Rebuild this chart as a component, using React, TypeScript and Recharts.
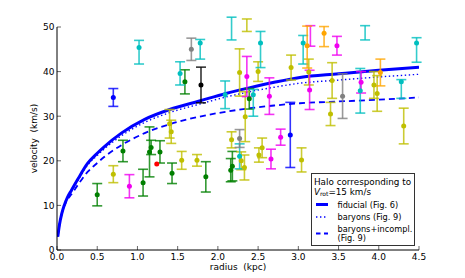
import React from "react";
import { ComposedChart, Line, Scatter, ErrorBar, XAxis, YAxis, Legend, Label } from "recharts";

const xTicks = [0, 0.5, 1, 1.5, 2, 2.5, 3, 3.5, 4, 4.5];
const yTicks = [0, 10, 20, 30, 40, 50];

// model rotation curves (radius in kpc, velocity in km/s)
const curveR = [0.01, 0.03, 0.06, 0.09, 0.13, 0.18, 0.26, 0.38, 0.5, 0.59, 0.8, 1.09, 1.4, 1.77, 2.1, 2.4, 2.7, 3.02, 3.5, 4.0, 4.5];
const fiducialV = [3.0, 5.6, 8.2, 10.0, 11.8, 13.4, 15.9, 19.4, 21.7, 23.2, 26.2, 29.3, 31.5, 33.4, 35.1, 36.4, 37.6, 38.7, 39.5, 40.3, 41.0];
const baryonsV = [3.0, 5.6, 8.2, 10.0, 11.7, 13.2, 15.6, 19.0, 21.2, 22.7, 25.6, 28.6, 30.8, 32.7, 34.3, 35.5, 36.5, 37.4, 38.1, 38.8, 39.4];
const incomplV = [3.0, 5.6, 8.2, 9.9, 11.3, 12.5, 14.6, 17.5, 19.5, 20.9, 23.5, 26.2, 28.2, 29.9, 31.0, 31.8, 32.4, 32.9, 33.3, 33.7, 34.2];

// measured points, grouped by colour: radius, velocity, error (symmetric or [low, high])
// points above 50 km/s sit outside the frame; only their error bars show
const blueR = [0.7, 2.9];
const blueV = [34.2, 25.8];
const blueE = [2.0, 7.3];

const cyanR = [1.02, 1.53, 1.78, 2.09, 2.17, 2.27, 2.44, 2.53, 3.06, 3.77, 3.83, 4.28, 4.47];
const cyanV = [45.4, 39.6, 46.4, 34.8, 50.2, 21.0, 34.8, 46.4, 46.4, 35.7, 50.3, 37.7, 46.4];
const cyanE = [[3.7, 1.6], 2.6, [3.6, 0.8], 3.1, [3.1, 2.0], 2.8, [4.8, 1.2], [5.5, 2.6], [4.7, 1.7], 5.0, [3.2, 0], [3.7, 0.5], [4.3, 1.2]];

const greenR = [0.5, 0.82, 1.07, 1.15, 1.17, 1.28, 1.43, 1.59, 1.85, 2.16, 2.18, 2.39];
const greenV = [12.4, 22.2, 15.1, 22.0, 23.0, 22.0, 17.2, 37.7, 16.4, 17.9, 18.8, 33.9];
const greenE = [2.5, 2.4, 3.0, 5.6, 1.6, 2.5, 2.3, 2.7, 3.4, 2.6, 3.3, 2.3];

const redR = [1.24];
const redV = [19.3];

const yellowR = [0.7, 1.4, 1.42, 1.55, 1.74, 2.17, 2.27, 2.29, 2.33, 2.34, 2.36, 2.5, 2.51, 2.55, 2.91, 3.04, 3.13, 3.4, 3.42, 3.94, 3.98, 4.31];
const yellowV = [17.0, 28.3, 26.5, 20.1, 20.1, 24.7, 39.8, 20.0, 18.5, 29.9, 50.6, 40.0, 21.3, 22.9, 40.9, 20.2, 39.9, 30.5, 38.0, 37.0, 35.1, 27.8];
const yellowE = [1.9, 3.2, 2.6, 2.0, 1.3, 1.8, 5.3, 2.0, 2.8, 5.6, [1.6, 1.2], 2.2, 1.6, 2.2, 2.8, 2.7, 2.9, 2.6, 4.0, 3.0, 4.0, 4.0];

const magentaR = [0.9, 2.36, 2.64, 2.66, 2.78, 3.14, 3.15, 3.48, 3.78];
const magentaV = [14.3, 38.9, 34.5, 20.4, 25.3, 35.9, 50.3, 45.8, 37.6];
const magentaE = [2.6, 4.5, 4.1, 2.2, 1.8, 4.4, [4.6, 0], 2.1, 2.4];

const grayR = [1.67, 2.27, 3.55];
const grayV = [45.0, 25.0, 34.5];
const grayE = [2.5, 2.0, 5.0];

const blackR = [1.79];
const blackV = [37.0];
const blackE = [4.0];

const orangeR = [3.11, 3.32, 4.02];
const orangeV = [45.8, 48.6, 39.8];
const orangeE = [[5.0, 4.4], [3.0, 1.5], 3.0];

const FONT = "DejaVu Sans";
const BLUE = "#0000ff";
const Y_MAX = 50;

const toPoints = (r: number[], v: number[], e?: any[]) =>
  r.map((x, i) => ({ r: x, v: v[i], e: e ? e[i] : 0 }));
const toCurve = (v: number[]) => curveR.map((x, i) => ({ r: x, v: v[i] }));

const groups = [
  { name: "green", color: "#007f00", data: toPoints(greenR, greenV, greenE), err: true },
  { name: "yellow", color: "#bfbf00", data: toPoints(yellowR, yellowV, yellowE), err: true },
  { name: "cyan", color: "#00bfbf", data: toPoints(cyanR, cyanV, cyanE), err: true },
  { name: "magenta", color: "#f000f0", data: toPoints(magentaR, magentaV, magentaE), err: true },
  { name: "gray", color: "#808080", data: toPoints(grayR, grayV, grayE), err: true },
  { name: "black", color: "#000000", data: toPoints(blackR, blackV, blackE), err: true },
  { name: "orange", color: "#ffa500", data: toPoints(orangeR, orangeV, orangeE), err: true },
  { name: "blue", color: BLUE, data: toPoints(blueR, blueV, blueE), err: true },
  { name: "red", color: "#ff0000", data: toPoints(redR, redV), err: false },
];

const BottomTick = ({ x, y, payload }: any) => (
  <g>
    <line x1={x} y1={y} x2={x} y2={y - 4} stroke="#000" strokeWidth={0.6} />
    <text x={x} y={y + 9.5} textAnchor="middle" fontSize={9} fontFamily={FONT} fill="#000">
      {Number(payload.value).toFixed(1)}
    </text>
  </g>
);

const TopTick = ({ x, y }: any) => <line x1={x} y1={y} x2={x} y2={y + 4} stroke="#000" strokeWidth={0.6} />;

const LeftTick = ({ x, y, payload }: any) => (
  <g>
    <line x1={x} y1={y} x2={x + 4} y2={y} stroke="#000" strokeWidth={0.6} />
    <text x={x - 2.5} y={y + 3.3} textAnchor="end" fontSize={9} fontFamily={FONT} fill="#000">
      {payload.value}
    </text>
  </g>
);

const RightTick = ({ x, y }: any) => <line x1={x} y1={y} x2={x - 4} y2={y} stroke="#000" strokeWidth={0.6} />;

const LegendBox = () => (
  <svg width={104} height={73} style={{ display: "block" }} fontFamily={FONT} fontSize={8.2}>
    <rect x={0.5} y={0.5} width={103} height={72} fill="#fff" stroke="#333" />
    <text x={3} y={11.5} fontSize={8.8}>Halo corresponding to</text>
    <text x={3} y={21.5} fontSize={8.8}>
      <tspan fontStyle="italic">V</tspan>
      <tspan fontSize={6} dy={1.8}>rot</tspan>
      <tspan dy={-1.8}>=15 km/s</tspan>
    </text>
    <line x1={5} x2={17} y1={31.5} y2={31.5} stroke={BLUE} strokeWidth={3} />
    <text x={26.5} y={35}>fiducial (Fig. 6)</text>
    <line x1={5} x2={17} y1={44} y2={44} stroke={BLUE} strokeWidth={1.4} strokeDasharray="1.4 2.6" />
    <text x={26.5} y={47.3}>baryons (Fig. 9)</text>
    <line x1={5} x2={17} y1={60.5} y2={60.5} stroke={BLUE} strokeWidth={1.8} strokeDasharray="4.5 3.5" />
    <text x={26.5} y={59.3}>baryons+incompl.</text>
    <text x={26.5} y={68.3}>(Fig. 9)</text>
  </svg>
);

export default function App() {
  return (
    <div style={{ position: "absolute", left: 0, top: 0 }}>
      <ComposedChart width={465} height={278} margin={{ top: 27, right: 46, bottom: 0, left: 0 }}>
        <XAxis
          dataKey="r"
          type="number"
          domain={[0, 4.5]}
          ticks={xTicks}
          allowDataOverflow
          height={28}
          tickSize={0}
          tickMargin={0}
          tickLine={false}
          tick={BottomTick}
          axisLine={{ stroke: "#000" }}
        >
          <Label value={"radius\u00a0\u00a0(kpc)"} position="insideBottom" offset={8} fontSize={9} fontFamily={FONT} fill="#000" />
        </XAxis>
        <XAxis
          xAxisId="top"
          orientation="top"
          dataKey="r"
          type="number"
          domain={[0, 4.5]}
          ticks={xTicks}
          allowDataOverflow
          height={0}
          tickSize={0}
          tickMargin={0}
          tickLine={false}
          tick={TopTick}
          axisLine={{ stroke: "#000" }}
        />
        <YAxis
          type="number"
          domain={[0, Y_MAX]}
          ticks={yTicks}
          allowDataOverflow
          width={57}
          tickSize={0}
          tickMargin={0}
          tickLine={false}
          tick={LeftTick}
          axisLine={{ stroke: "#000" }}
        >
          <Label
            value={"velocity\u00a0\u00a0(km/s)"}
            angle={-90}
            position="insideLeft"
            offset={34}
            fontSize={9}
            fontFamily={FONT}
            fill="#000"
            style={{ textAnchor: "middle" }}
          />
        </YAxis>
        <YAxis
          yAxisId="right"
          orientation="right"
          type="number"
          domain={[0, Y_MAX]}
          ticks={yTicks}
          allowDataOverflow
          width={0}
          tickSize={0}
          tickMargin={0}
          tickLine={false}
          tick={RightTick}
          axisLine={{ stroke: "#000" }}
        />
        <Line data={toCurve(fiducialV)} dataKey="v" type="monotone" stroke={BLUE} strokeWidth={3} dot={false} isAnimationActive={false} />
        <Line data={toCurve(baryonsV)} dataKey="v" type="monotone" stroke={BLUE} strokeWidth={1.4} strokeDasharray="1.4 2.6" dot={false} isAnimationActive={false} />
        <Line data={toCurve(incomplV)} dataKey="v" type="monotone" stroke={BLUE} strokeWidth={1.8} strokeDasharray="6 4" dot={false} isAnimationActive={false} />
        {groups.map((g) => (
          <Scatter
            key={g.name}
            name={g.name}
            data={g.data}
            dataKey="v"
            fill={g.color}
            isAnimationActive={false}
            shape={(p: any) =>
              p.payload && p.payload.v > Y_MAX ? <g /> : <circle cx={p.cx} cy={p.cy} r={2.5} fill={g.color} />
            }
          >
            {g.err && <ErrorBar dataKey="e" direction="y" width={5} stroke={g.color} strokeWidth={1.6} strokeOpacity={0.8} />}
          </Scatter>
        ))}
        <Legend
          layout="vertical"
          align="center"
          verticalAlign="middle"
          wrapperStyle={{ left: 311, top: 173, width: 104, height: 73 }}
          content={() => <LegendBox />}
        />
      </ComposedChart>
    </div>
  );
}
